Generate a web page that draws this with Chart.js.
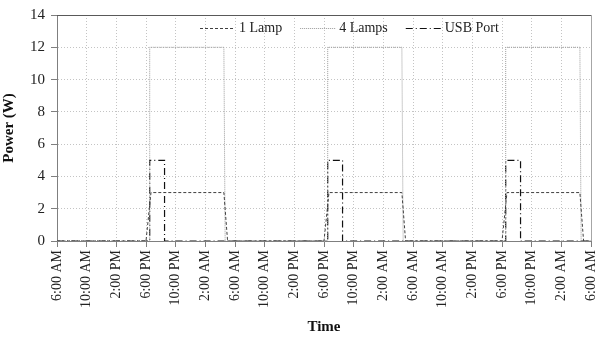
<!DOCTYPE html>
<html>
<head>
<meta charset="utf-8">
<script src="https://cdn.jsdelivr.net/npm/chart.js@4"></script>
<style>
  html, body { margin: 0; padding: 0; background: #fff; }
  #wrap { width: 596px; height: 340px; }
</style>
</head>
<body>
<div id="wrap"><canvas id="chart" width="596" height="340"></canvas></div>
<script>
// hours counted from 6:00 AM of the first day
const tickHours = [0, 4, 8, 12, 16, 20, 24, 28, 32, 36, 40, 44, 48, 52, 56, 60, 64, 68, 72];
const tickLabels = ['6:00 AM', '10:00 AM', '2:00 PM', '6:00 PM', '10:00 PM', '2:00 AM',
  '6:00 AM', '10:00 AM', '2:00 PM', '6:00 PM', '10:00 PM', '2:00 AM',
  '6:00 AM', '10:00 AM', '2:00 PM', '6:00 PM', '10:00 PM', '2:00 AM', '6:00 AM'];

const oneLampHours = [0, 12, 12.67, 22.5, 23, 36, 36.67, 46.5, 47, 60, 60.67, 70.5, 71, 72];
const oneLampWatts = [0, 0, 3, 3, 0, 0, 3, 3, 0, 0, 3, 3, 0, 0];

const fourLampHours = [0, 12.5, 12.5, 22.5, 22.67, 36.5, 36.5, 46.5, 46.67, 60.5, 60.5, 70.5, 70.67, 72];
const fourLampWatts = [0, 0, 12, 12, 0, 0, 12, 12, 0, 0, 12, 12, 0, 0];

const usbHours = [0, 12.5, 12.5, 14.5, 14.5, 36.5, 36.5, 38.5, 38.5, 60.5, 60.5, 62.5, 62.5, 72];
const usbWatts = [0, 0, 5, 5, 0, 0, 5, 5, 0, 0, 5, 5, 0, 0];

const FONT = '"Liberation Serif", "Times New Roman", serif';

const toPoints = (xs, ys) => xs.map((x, i) => ({ x, y: ys[i] }));

// legend drawn inside the plot, over the grid
const legendInside = {
  id: 'legendInside',
  afterDraw(chart) {
    const ctx = chart.ctx;
    let x = 200;
    const y = 28;
    ctx.save();
    ctx.font = `14px ${FONT}`;
    ctx.textBaseline = 'middle';
    chart.data.datasets.forEach((ds) => {
      ctx.strokeStyle = ds.borderColor;
      ctx.lineWidth = ds.borderWidth;
      ctx.setLineDash(ds.borderDash || []);
      ctx.beginPath();
      ctx.moveTo(x, y + 0.5);
      ctx.lineTo(x + 35, y + 0.5);
      ctx.stroke();
      ctx.setLineDash([]);
      ctx.fillStyle = '#222';
      ctx.fillText(ds.label, x + 39, y);
      x += 39 + ctx.measureText(ds.label).width + 18;
    });
    ctx.restore();
  },
};

// top and right edges of the plot area
const plotFrame = {
  id: 'plotFrame',
  afterDatasetsDraw(chart) {
    const { ctx, chartArea: a } = chart;
    ctx.save();
    ctx.lineWidth = 1;
    ctx.strokeStyle = '#595959';
    ctx.beginPath();
    ctx.moveTo(a.left, Math.round(a.top) + 0.5);
    ctx.lineTo(a.right, Math.round(a.top) + 0.5);
    ctx.stroke();
    ctx.strokeStyle = '#a6a6a6';
    ctx.beginPath();
    ctx.moveTo(Math.round(a.right) + 0.5, a.top);
    ctx.lineTo(Math.round(a.right) + 0.5, a.bottom);
    ctx.stroke();
    ctx.restore();
  },
};

new Chart(document.getElementById('chart').getContext('2d'), {
  type: 'scatter',
  data: {
    datasets: [
      {
        label: '1 Lamp',
        data: toPoints(oneLampHours, oneLampWatts),
        borderColor: '#404040',
        borderWidth: 1,
        borderDash: [3, 2],
      },
      {
        label: '4 Lamps',
        data: toPoints(fourLampHours, fourLampWatts),
        borderColor: '#9a9a9a',
        borderWidth: 1,
        borderDash: [1, 1],
      },
      {
        label: 'USB Port',
        data: toPoints(usbHours, usbWatts),
        borderColor: '#111',
        borderWidth: 1.2,
        borderDash: [7, 3, 1, 3],
      },
    ].map((ds) => ({ ...ds, showLine: true, pointRadius: 0, fill: false, backgroundColor: 'transparent' })),
  },
  options: {
    responsive: false,
    animation: false,
    layout: { padding: { top: 15, right: 5, left: 0, bottom: 0 } },
    plugins: { legend: { display: false }, tooltip: { enabled: false } },
    scales: {
      x: {
        type: 'linear',
        min: 0,
        max: 72,
        afterBuildTicks: (scale) => { scale.ticks = tickHours.map((v) => ({ value: v })); },
        afterFit: (scale) => {
          scale.height = 99;
          scale.paddingLeft = 0;
          scale.paddingRight = 0;
        },
        ticks: {
          autoSkip: false,
          minRotation: 90,
          maxRotation: 90,
          padding: 3,
          color: '#222',
          font: { family: FONT, size: 14 },
          callback: (value, index) => tickLabels[index],
        },
        grid: {
          color: (c) => (c.tick && (c.tick.value === 0 || c.tick.value === 72) ? 'transparent' : '#c4c4c4'),
          tickColor: '#7f7f7f',
          tickLength: 6,
        },
        border: { color: '#7f7f7f', dash: [1, 2] },
        title: {
          display: true,
          text: 'Time',
          color: '#111',
          font: { family: FONT, size: 15, weight: 'bold' },
          padding: { top: 0, bottom: 4 },
        },
      },
      y: {
        min: 0,
        max: 14,
        afterFit: (scale) => { scale.width = 57; },
        ticks: {
          stepSize: 2,
          padding: 6,
          color: '#222',
          font: { family: FONT, size: 15 },
        },
        grid: {
          color: (c) => (c.tick && c.tick.value === 0 ? 'transparent' : '#c4c4c4'),
          tickColor: '#7f7f7f',
          tickLength: 6,
        },
        border: { color: '#7f7f7f', dash: [1, 2] },
        title: {
          display: true,
          text: 'Power (W)',
          color: '#111',
          font: { family: FONT, size: 15, weight: 'bold' },
          padding: { top: 0, bottom: 2 },
        },
      },
    },
  },
  plugins: [plotFrame, legendInside],
});
</script>
</body>
</html>
